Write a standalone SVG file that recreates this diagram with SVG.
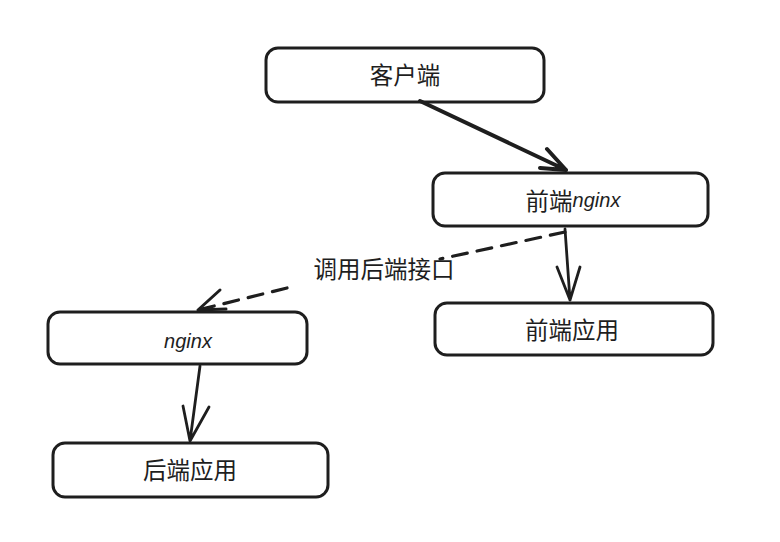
<svg xmlns="http://www.w3.org/2000/svg" width="780" height="542" viewBox="0 0 780 542">
<style>
.box{fill:#fff;stroke:#1e1e1e;stroke-width:3}
.t{font-family:"Noto Sans CJK SC","Noto Sans",sans-serif;font-size:23.5px;fill:#1e1e1e;text-anchor:middle;dominant-baseline:central}
.h{font-family:"Liberation Sans","Noto Sans CJK SC",sans-serif;font-size:20px;font-style:italic}
.c{fill:none;stroke:#1e1e1e;stroke-linecap:round;stroke-linejoin:round}
</style>
<rect width="780" height="542" fill="#fff"/>
<g id="n-client"><rect class="box" x="266" y="48" width="278" height="54" rx="12"/><text class="t" x="405" y="74">客户端</text></g>
<g id="n-fe-nginx"><rect class="box" x="433" y="173" width="275" height="53" rx="12"/><text class="t" x="573" y="200">前端<tspan class="h">nginx</tspan></text></g>
<g id="n-fe-app"><rect class="box" x="435" y="303" width="278" height="52" rx="12"/><text class="t" x="572" y="329">前端应用</text></g>
<g id="n-nginx"><rect class="box" x="48" y="312" width="259" height="52" rx="12"/><text class="t h" x="188" y="341">nginx</text></g>
<g id="n-be-app"><rect class="box" x="53" y="443" width="275" height="54" rx="12"/><text class="t" x="190" y="469">后端应用</text></g>
<g id="connectors">
<path class="c" stroke-width="4" d="M420 101 L566 170 M566 170 L540 168 M566 170 L547 149"/>
<path class="c" stroke-width="2.8" d="M565 229 L570 300 M570 300 L557 267 M570 300 L580 267"/>
<path class="c" stroke-width="3.2" stroke-linecap="butt" stroke-dasharray="15 10" d="M565 232 L440 259"/>
<path class="c" stroke-width="3.2" stroke-linecap="butt" stroke-dasharray="15 10" d="M287 288 L198 310"/>
<path class="c" stroke-width="3" d="M198 310 L220 290 M198 310 L226 309"/>
<text class="t" x="384" y="268">调用后端接口</text>
<path class="c" stroke-width="2.8" d="M200 366 L190 441 M190 441 L183 406 M190 441 L209 407"/>
</g>
</svg>
